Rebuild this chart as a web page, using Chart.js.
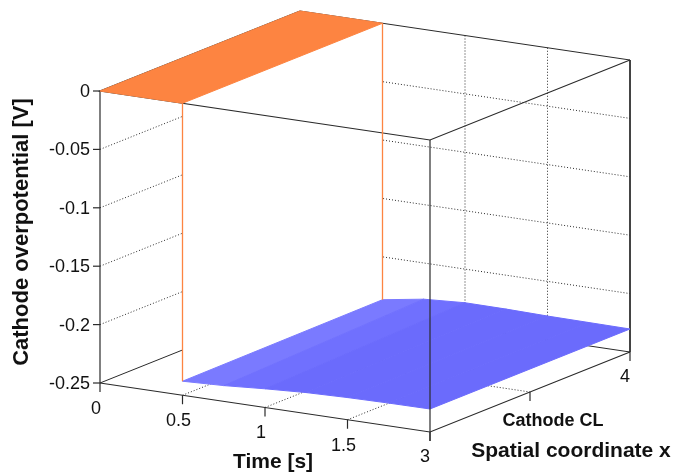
<!DOCTYPE html>
<html>
<head>
<meta charset="utf-8">
<script src="https://cdn.jsdelivr.net/npm/chart.js@4.4.0/dist/chart.umd.min.js"></script>
<style>
  body { margin: 0; background: #fff; }
  #plot { display: block; }
</style>
</head>
<body>
<canvas id="plot" width="677" height="472"></canvas>
<script>
// axis ranges and ticks
const timeRange = [0, 2];
const spaceRange = [3, 4];
const potRange = [-0.25, 0];
const timeTicks = [0, 0.5, 1, 1.5, 2];
const timeTickLabels = ['0', '0.5', '1', '1.5', ''];
const spaceTicks = [3, 3.5, 4];
const spaceTickLabels = ['3', '', '4'];
const potTicks = [0, -0.05, -0.1, -0.15, -0.2, -0.25];
const potTickLabels = ['0', '-0.05', '-0.1', '-0.15', '-0.2', '-0.25'];

// surface samples: time, potential at front edge (x=3) and back edge (x=4)
const surfTime = [0, 0.5, 0.5, 0.75, 1, 1.25, 1.5, 1.75, 2];
const potFront = [0, 0, -0.238, -0.2365, -0.234, -0.232, -0.231, -0.2305, -0.2303];
const potBack = [0, 0, -0.2367, -0.231, -0.2288, -0.229, -0.2297, -0.230, -0.2303];

// view: where the box sits on the hidden 2D scales
const viewOrigin = [100, 383];
const timeVec = [330, 49];
const spaceVec = [200, -80];
const potVec = [0, -292];

const FONT = "'Liberation Sans', Arial, sans-serif";
const EDGE = '#2a2a2a';
const ORANGE = '#fd8441';

function proj(t, s, z) {
    const a = (t - timeRange[0]) / (timeRange[1] - timeRange[0]);
    const b = (s - spaceRange[0]) / (spaceRange[1] - spaceRange[0]);
    const c = (z - potRange[0]) / (potRange[1] - potRange[0]);
    return {
        x: viewOrigin[0] + a * timeVec[0] + b * spaceVec[0] + c * potVec[0],
        y: viewOrigin[1] + a * timeVec[1] + b * spaceVec[1] + c * potVec[1]
    };
}

function path(pts) { return pts.map(p => proj(p[0], p[1], p[2])); }

const layers = [];

function addLine(pts, color, width, dash) {
    layers.push({
        data: path(pts), showLine: true, borderColor: color, borderWidth: width,
        borderDash: dash || [], pointRadius: 0, fill: false
    });
}

function addPoly(pts, color, edge) {
    const closed = pts.concat([pts[0]]);
    layers.push({
        data: path(closed), showLine: true, backgroundColor: color,
        borderColor: edge || color, borderWidth: edge === 'none' ? 0 : 1,
        pointRadius: 0, fill: 'shape'
    });
}

const t0 = timeRange[0], t1 = timeRange[1];
const s0 = spaceRange[0], s1 = spaceRange[1];
const z0 = potRange[0], z1 = potRange[1];
const dotted = [1, 2];

// grid on the left wall (t = t0), back wall (s = s1) and floor (z = z0)
potTicks.forEach(z => {
    if (z === z0 || z === z1) return;
    addLine([[t0, s0, z], [t0, s1, z]], EDGE, 1, dotted);
    addLine([[t0, s1, z], [t1, s1, z]], EDGE, 1, dotted);
});
spaceTicks.forEach(s => {
    if (s === s0 || s === s1) return;
    addLine([[t0, s, z0], [t0, s, z1]], EDGE, 1, dotted);
    addLine([[t0, s, z0], [t1, s, z0]], EDGE, 1, dotted);
});
timeTicks.forEach(t => {
    if (t === t0 || t === t1) return;
    addLine([[t, s1, z0], [t, s1, z1]], EDGE, 1, dotted);
    addLine([[t, s0, z0], [t, s1, z0]], EDGE, 1, dotted);
});

// back box edges
addLine([[t0, s0, z0], [t0, s1, z0], [t1, s1, z0]], EDGE, 1);
addLine([[t0, s1, z0], [t0, s1, z1], [t1, s1, z1], [t1, s1, z0]], EDGE, 1);

// jump face at the step
const j = 2;
addPoly([[surfTime[j], s0, potFront[j - 1]], [surfTime[j], s1, potBack[j - 1]],
         [surfTime[j], s1, potBack[j]], [surfTime[j], s0, potFront[j]]], '#ffffff', 'none');

// blue part of the surface, strip by strip
for (let i = j; i < surfTime.length - 1; i++) {
    const col = i === j ? '#7a7aff' : (i === j + 1 ? '#7070fe' : '#6b6bfc');
    addPoly([[surfTime[i], s0, potFront[i]], [surfTime[i + 1], s0, potFront[i + 1]],
             [surfTime[i + 1], s1, potBack[i + 1]], [surfTime[i], s1, potBack[i]]], col);
}

// front box edges
addLine([[t0, s0, z0], [t0, s0, z1]], EDGE, 1.2);
addLine([[t0, s0, z0], [t1, s0, z0], [t1, s1, z0]], EDGE, 1.2);
addLine([[t1, s0, z0], [t1, s0, z1]], EDGE, 1.2);
addLine([[t0, s1, z1], [t0, s0, z1], [t1, s0, z1], [t1, s1, z1]], EDGE, 1.2);

// orange part of the surface and its step edges
addPoly([[surfTime[0], s0, potFront[0]], [surfTime[1], s0, potFront[1]],
         [surfTime[1], s1, potBack[1]], [surfTime[0], s1, potBack[0]]], ORANGE);
addLine([[surfTime[j], s0, potFront[j - 1]], [surfTime[j], s0, potFront[j]]], ORANGE, 1.3);
addLine([[surfTime[j], s1, potBack[j - 1]], [surfTime[j], s1, potBack[j]]], ORANGE, 1.3);

// bottom layer gets the highest order
layers.forEach((d, i) => { d.order = layers.length - i; });

const axisText = {
    id: 'axisText',
    afterDraw(chart) {
        const c = chart.ctx;
        const xs = chart.scales.x, ys = chart.scales.y;
        const px = p => ({ x: xs.getPixelForValue(p.x), y: ys.getPixelForValue(p.y) });
        c.save();
        c.strokeStyle = EDGE;
        c.lineWidth = 1.2;
        c.fillStyle = '#111';
        c.font = '18px ' + FONT;
        c.textBaseline = 'middle';

        c.textAlign = 'right';
        potTicks.forEach((z, i) => {
            const p = px(proj(t0, s0, z));
            c.beginPath(); c.moveTo(p.x - 7, p.y); c.lineTo(p.x, p.y); c.stroke();
            c.fillText(potTickLabels[i], p.x - 10, p.y + 1);
        });

        c.textAlign = 'center';
        timeTicks.forEach((t, i) => {
            const p = px(proj(t, s0, z0));
            c.beginPath(); c.moveTo(p.x, p.y); c.lineTo(p.x, p.y + 9); c.stroke();
            if (timeTickLabels[i]) c.fillText(timeTickLabels[i], p.x - 4, p.y + 26);
        });
        spaceTicks.forEach((s, i) => {
            const p = px(proj(t1, s, z0));
            c.beginPath(); c.moveTo(p.x, p.y); c.lineTo(p.x, p.y + 9); c.stroke();
            if (spaceTickLabels[i]) c.fillText(spaceTickLabels[i], p.x - 5, p.y + 25);
        });

        c.font = 'bold 18px ' + FONT;
        const mid = px(proj(t1, (s0 + s1) / 2, z0));
        c.fillText('Cathode CL', mid.x + 23, mid.y + 29);
        c.font = 'bold 21px ' + FONT;
        c.fillText('Spatial coordinate x', mid.x + 41, mid.y + 59);
        const tm = px(proj((t0 + t1) / 2, s0, z0));
        c.fillText('Time [s]', tm.x + 8, tm.y + 55);

        c.font = 'bold 22px ' + FONT;
        const za = px(proj(t0, s0, (z0 + z1) / 2));
        c.translate(za.x - 78, za.y - 5);
        c.rotate(-Math.PI / 2);
        c.fillText('Cathode overpotential [V]', 0, 0);
        c.restore();
    }
};

new Chart(document.getElementById('plot'), {
    type: 'scatter',
    data: { datasets: layers },
    options: {
        responsive: false,
        animation: false,
        layout: { padding: 0 },
        plugins: { legend: { display: false }, tooltip: { enabled: false } },
        scales: {
            x: { type: 'linear', display: false, min: 0, max: 677 },
            y: { type: 'linear', display: false, min: 0, max: 472, reverse: true }
        }
    },
    plugins: [axisText]
});
</script>
</body>
</html>
